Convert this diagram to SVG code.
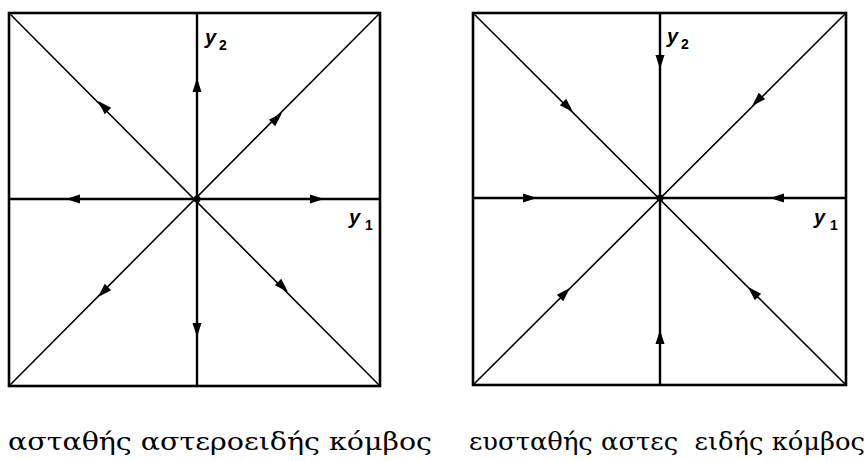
<svg xmlns="http://www.w3.org/2000/svg" width="868" height="461" viewBox="0 0 868 461">
<style>
.box{fill:none;stroke:#000;stroke-width:2.6}
.axis{stroke:#000;stroke-width:2.4}
.diag{stroke:#000;stroke-width:1.6}
.ah{fill:#000}
.lab{font-family:"Liberation Sans",Arial,sans-serif;font-style:italic;font-weight:bold;font-size:20px;fill:#000}
.sub{font-family:"Liberation Sans",Arial,sans-serif;font-weight:bold;font-size:14px;fill:#000}
.cap{font-family:"DejaVu Serif","Liberation Serif",serif;font-size:24px;fill:#000}
</style>
<defs>
<path id="ah" d="M7,0 L-7,-4.5 L-7,4.5 Z"/>
</defs>
<rect width="868" height="461" fill="#fff"/>
<g id="unstable">
<rect class="box" x="9" y="13" width="371" height="373"/>
<g id="unstable-lines">
<line class="axis" x1="197" y1="13" x2="197" y2="386"/>
<line class="axis" x1="9" y1="199" x2="380" y2="199"/>
<line class="diag" x1="9" y1="13" x2="380" y2="386"/>
<line class="diag" x1="380" y1="13" x2="9" y2="386"/>
</g>
<g id="unstable-arrows" class="ah">
<use href="#ah" transform="translate(103,106) rotate(225)"/>
<use href="#ah" transform="translate(197,85) rotate(-90)"/>
<use href="#ah" transform="translate(277,118) rotate(-45)"/>
<use href="#ah" transform="translate(73,199) rotate(180)"/>
<use href="#ah" transform="translate(317,199) rotate(0)"/>
<use href="#ah" transform="translate(197,330) rotate(90)"/>
<use href="#ah" transform="translate(103,292) rotate(135)"/>
<use href="#ah" transform="translate(283,287) rotate(45)"/>
</g>
<circle cx="197" cy="199" r="3.5" fill="#000"/>
<text class="lab" x="205" y="44">y</text><text class="sub" x="219" y="50">2</text>
<text class="lab" x="349" y="224">y</text><text class="sub" x="365" y="230">1</text>
<text class="cap" x="8" y="450" textLength="424" lengthAdjust="spacingAndGlyphs">ασταθής αστεροειδής κόμβος</text>
</g>
<g id="stable">
<rect class="box" x="473" y="13" width="373" height="372"/>
<g id="stable-lines">
<line class="axis" x1="660" y1="13" x2="660" y2="385"/>
<line class="axis" x1="473" y1="198" x2="846" y2="198"/>
<line class="diag" x1="473" y1="13" x2="846" y2="385"/>
<line class="diag" x1="846" y1="13" x2="473" y2="385"/>
</g>
<g id="stable-arrows" class="ah">
<use href="#ah" transform="translate(568,107) rotate(45)"/>
<use href="#ah" transform="translate(660,62) rotate(90)"/>
<use href="#ah" transform="translate(757,101) rotate(135)"/>
<use href="#ah" transform="translate(530,198) rotate(0)"/>
<use href="#ah" transform="translate(777,198) rotate(180)"/>
<use href="#ah" transform="translate(660,337) rotate(-90)"/>
<use href="#ah" transform="translate(565,293) rotate(-45)"/>
<use href="#ah" transform="translate(753,292) rotate(-135)"/>
</g>
<circle cx="660" cy="198" r="3.5" fill="#000"/>
<text class="lab" x="667" y="43">y</text><text class="sub" x="681" y="49">2</text>
<text class="lab" x="814" y="224">y</text><text class="sub" x="830" y="230">1</text>
<text class="cap" x="469" y="450" textLength="396" lengthAdjust="spacingAndGlyphs" xml:space="preserve">ευσταθής αστες  ειδής κόμβος</text>
</g>
</svg>
